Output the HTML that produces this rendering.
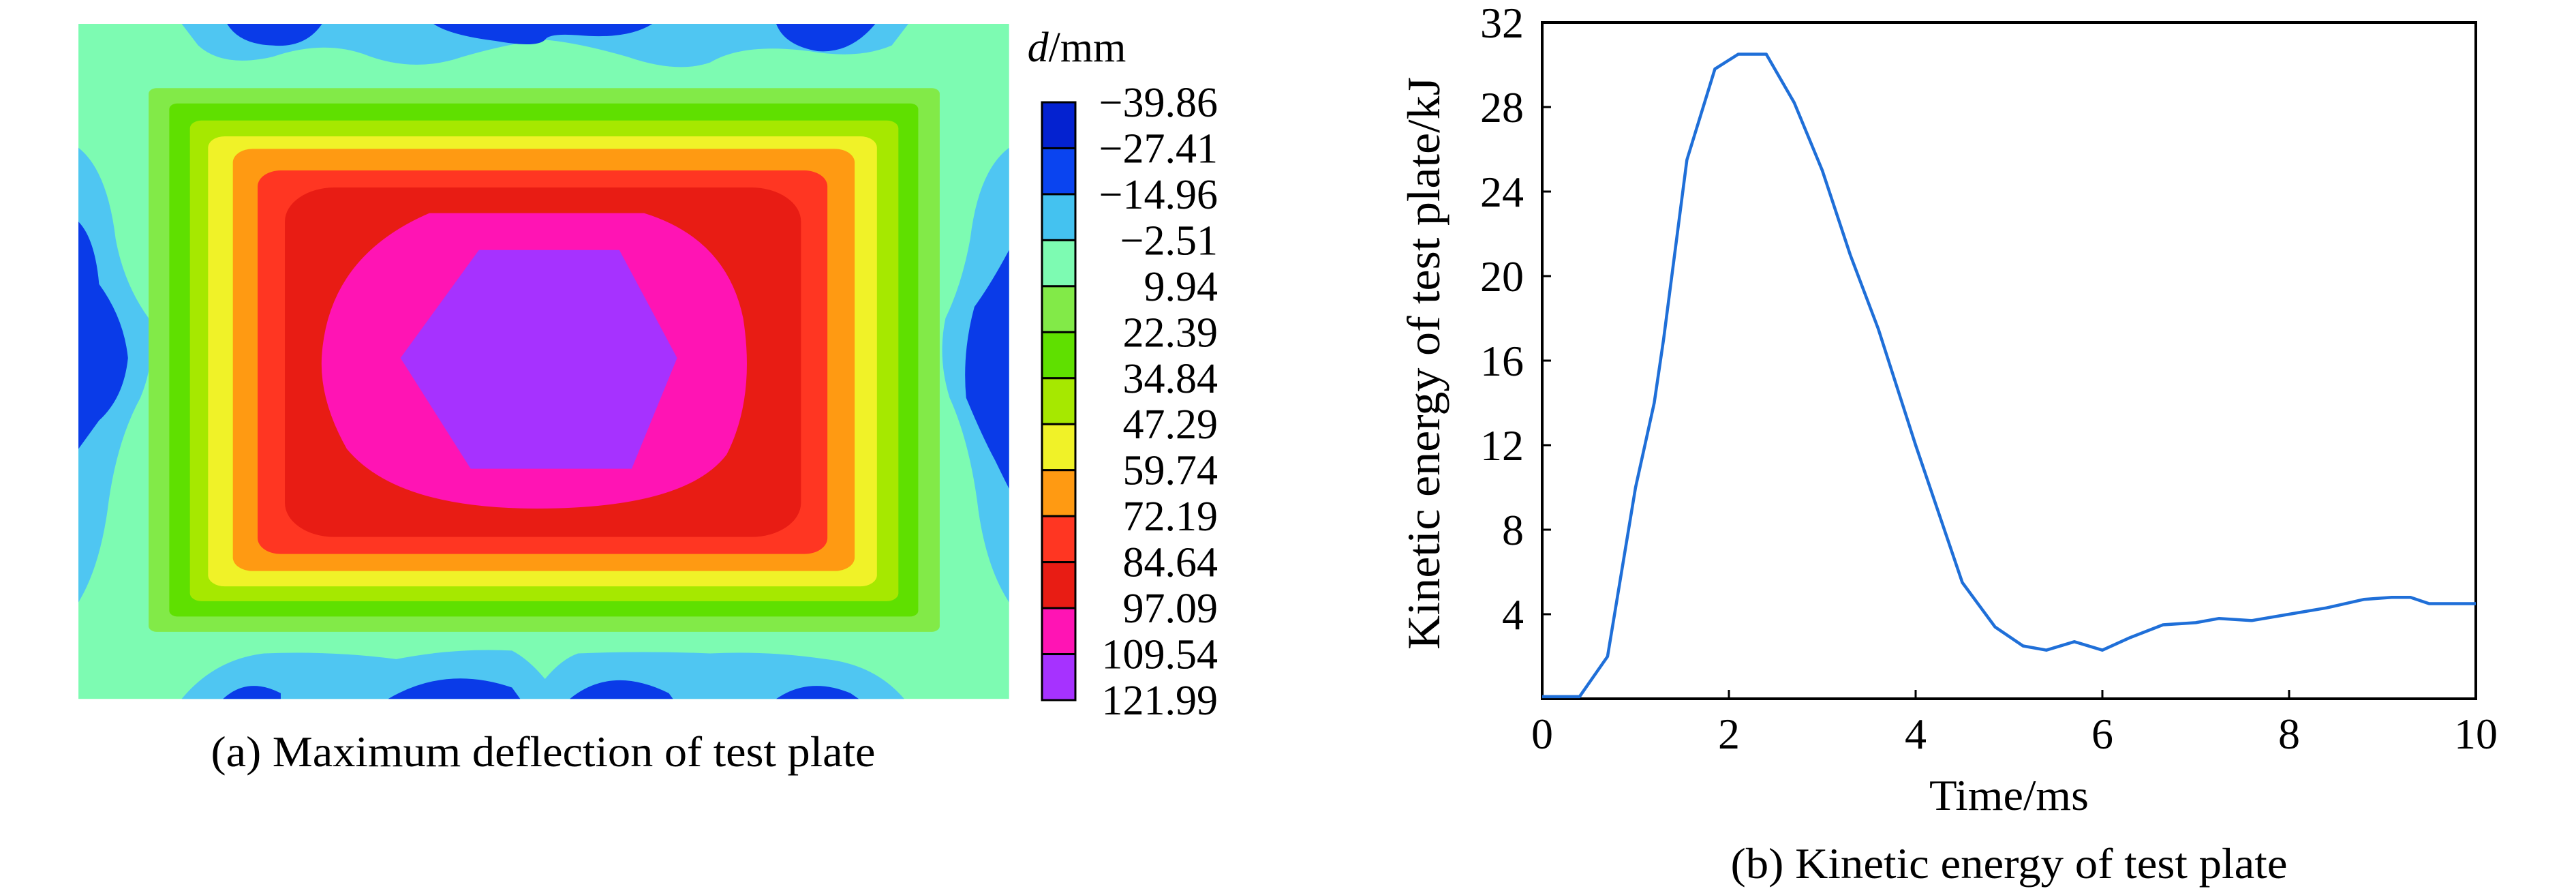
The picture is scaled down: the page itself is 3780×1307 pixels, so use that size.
<!DOCTYPE html>
<html><head><meta charset="utf-8"><style>
html,body{margin:0;padding:0;background:#fff;}
svg{display:block;font-family:"Liberation Serif",serif;}
</style></head><body>
<svg width="3780" height="1307" viewBox="0 0 3780 1307">
<g transform="scale(1.2117 0.8335)">
  <rect x="95" y="42" width="1127" height="1188" fill="#7dfbb2"/>
  <path d="M220,42 L1100,42 L1080,80 Q1040,105 980,90 Q900,75 860,110 Q820,130 760,100 Q700,75 660,70 Q620,75 560,100 Q500,130 440,95 Q390,70 330,100 Q270,120 240,80 Z" fill="#4fc6f2"/>
  <path d="M275,42 L390,42 Q370,85 330,80 Q290,78 275,42 Z M525,42 L790,42 Q760,70 700,62 Q665,58 660,70 Q650,85 600,72 Q545,62 525,42 Z M940,42 L1060,42 Q1030,95 990,90 Q950,80 940,42 Z" fill="#0a3be8"/>
  <path d="M220,1230 L1095,1230 Q1060,1170 1000,1160 Q930,1145 860,1150 Q780,1145 700,1150 Q680,1160 660,1195 Q640,1160 620,1145 Q550,1140 480,1160 Q400,1145 320,1150 Q260,1160 220,1230 Z" fill="#4fc6f2"/>
  <path d="M270,1230 Q300,1190 340,1220 L340,1230 Z M470,1230 Q540,1170 620,1210 L630,1230 Z M690,1230 Q740,1170 810,1220 L815,1230 Z M940,1230 Q980,1190 1030,1220 L1040,1230 Z" fill="#0a3be8"/>
  <path d="M95,260 Q130,300 140,420 Q150,500 180,560 Q190,630 170,700 Q140,780 130,900 Q120,1000 95,1060 Z" fill="#4fc6f2"/>
  <path d="M95,390 Q115,420 120,500 Q150,560 155,630 Q150,700 120,740 Q105,770 95,790 Z" fill="#0a3be8"/>
  <path d="M1222,260 Q1185,300 1175,420 Q1165,500 1145,560 Q1135,630 1150,700 Q1175,780 1185,900 Q1195,1000 1222,1060 Z" fill="#4fc6f2"/>
  <path d="M1222,440 Q1200,500 1180,540 Q1165,620 1170,700 Q1190,770 1205,810 Q1215,840 1222,860 Z" fill="#0a3be8"/>
  <rect x="180" y="155" width="958" height="957" rx="10" fill="#82ea48"/>
  <rect x="205" y="182" width="907" height="903" rx="10" fill="#5fe000"/>
  <rect x="230" y="212" width="858" height="846" rx="14" fill="#a6e800"/>
  <rect x="252" y="240" width="810" height="792" rx="20" fill="#f0f228"/>
  <rect x="282" y="262" width="753" height="743" rx="24" fill="#ff9a12"/>
  <rect x="312" y="300" width="690" height="675" rx="28" fill="#ff3622"/>
  <rect x="345" y="330" width="625" height="615" rx="60" fill="#e81c14"/>
  <path d="M520,375 L780,375 Q880,420 900,560 Q915,700 880,800 Q830,895 650,895 Q480,895 420,790 Q385,700 390,620 Q400,450 520,375 Z" fill="#ff14b4"/>
  <path d="M580,440 L750,440 L820,630 L765,825 L570,825 L485,630 Z" fill="#a632ff"/>
</g>
<g>
  <text x="1580" y="90" font-size="62" text-anchor="middle"><tspan font-style="italic">d</tspan>/mm</text>
  <g id="cbar"></g>
</g>
<text x="797" y="1124" font-size="64" text-anchor="middle" textLength="975" lengthAdjust="spacingAndGlyphs">(a) Maximum deflection of test plate</text>

<g id="chart"></g>
<text x="2112" y="533" font-size="68" text-anchor="middle" textLength="840" lengthAdjust="spacingAndGlyphs" transform="rotate(-90 2112 533)">Kinetic energy of test plate/kJ</text>
<text x="2948" y="1188" font-size="64" text-anchor="middle" textLength="234" lengthAdjust="spacingAndGlyphs">Time/ms</text>
<text x="2948" y="1288" font-size="64" text-anchor="middle" textLength="817" lengthAdjust="spacingAndGlyphs">(b) Kinetic energy of test plate</text>
</svg>
<script>
const NS='http://www.w3.org/2000/svg';
const cbLabels=['\u221239.86','\u221227.41','\u221214.96','\u22122.51','9.94','22.39','34.84','47.29','59.74','72.19','84.64','97.09','109.54','121.99'];
const cbColors=['#0422d0','#0a44f0','#44c2f0','#7dfbb2','#82ea48','#5fe000','#a6e800','#f0f228','#ff9a12','#ff3622','#e81c14','#ff14b4','#a632ff'];
const times=[0,0.4,0.7,1.0,1.2,1.3,1.55,1.85,2.1,2.4,2.7,3.0,3.3,3.6,4.0,4.5,4.85,5.15,5.4,5.7,6.0,6.3,6.65,7.0,7.25,7.6,8.0,8.4,8.8,9.1,9.3,9.5,10];
const energy=[0.1,0.1,2,10,14,17,25.5,29.8,30.5,30.5,28.2,25,21,17.5,12,5.5,3.4,2.5,2.3,2.7,2.3,2.9,3.5,3.6,3.8,3.7,4.0,4.3,4.7,4.8,4.8,4.5,4.5];
const xTicks=[0,2,4,6,8,10];
const yTicks=[4,8,12,16,20,24,28,32];

function mk(tag,attrs,parent){const e=document.createElementNS(NS,tag);for(const k in attrs)e.setAttribute(k,attrs[k]);parent.appendChild(e);return e;}

const cb=document.getElementById('cbar');
const cbTop=150,cbBot=1027,cbX=1529,cbW=49;
const segH=(cbBot-cbTop)/cbColors.length;
cbColors.forEach((c,i)=>{
  const r=mk('rect',{x:cbX,y:cbTop+i*segH,width:cbW,height:segH,fill:c,stroke:'#000','stroke-width':3},cb);
  
  
});
cbLabels.forEach((l,i)=>{
  const t=mk('text',{x:1787,y:cbTop+i*segH+21,'font-size':62,'text-anchor':'end'},cb);
  t.textContent=l;
  
  
});

const ch=document.getElementById('chart');
const X0=2263,X1=3633,Y0=1025,Y1=33;
const sx=v=>X0+(v-0)/(10-0)*(X1-X0);
const sy=v=>Y0-(v-0)/(32-0)*(Y0-Y1);
const frame=mk('rect',{x:X0,y:Y1,width:X1-X0,height:Y0-Y1,fill:'none',stroke:'#000','stroke-width':4},ch);


xTicks.forEach(v=>{
  if(v>0&&v<10){const tk=mk('line',{x1:sx(v),x2:sx(v),y1:Y0,y2:Y0-13,stroke:'#000','stroke-width':3},ch);
  
  }
  const t=mk('text',{x:sx(v),y:1098,'font-size':64,'text-anchor':'middle'},ch);
  t.textContent=v;
  
  
});
yTicks.forEach(v=>{
  if(v<32){const tk=mk('line',{x1:X0,x2:X0+13,y1:sy(v),y2:sy(v),stroke:'#000','stroke-width':3},ch);
  
  }
  const t=mk('text',{x:2236,y:sy(v)+22,'font-size':64,'text-anchor':'end'},ch);
  t.textContent=v;
  
  
});
const pts=times.map((t,i)=>sx(t)+','+sy(energy[i])).join(' ');
const pl=mk('polyline',{points:pts,fill:'none',stroke:'#1f6fd8','stroke-width':4.5,'stroke-linejoin':'round'},ch);


</script>
</body></html>
